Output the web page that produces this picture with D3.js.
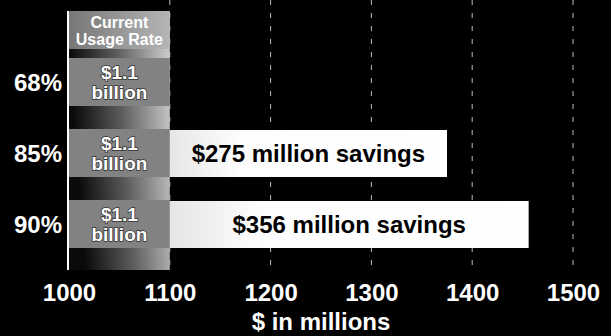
<!DOCTYPE html>
<html>
<head>
<meta charset="utf-8">
<script src="https://cdn.jsdelivr.net/npm/d3@7"></script>
<style>
  body { margin: 0; background: #000; }
  svg { display: block; }
</style>
</head>
<body>
<div id="chart"></div>
<script>
// data
const rates = ['68%', '85%', '90%']
const currentCost = [1100, 1100, 1100]      // $ millions at current usage rate
const savings = [0, 275, 356]               // $ millions saved
const savingsLabels = ['', '$275 million savings', '$356 million savings']
const costLabel = ['$1.1', 'billion']
const headerLabel = ['Current', 'Usage Rate']
const xTicks = [1000, 1100, 1200, 1300, 1400, 1500]
const xTitle = '$ in millions'

// constants
const width = 611
const height = 336
const font = '"Liberation Sans", Arial, sans-serif'

const svg = d3.select('#chart')
    .append('svg')
        .attr('width', width)
        .attr('height', height)
        .style('background', '#000')

const x = d3.scaleLinear()
            .domain([1000, 1500])
            .range([69, 573])

const y = d3.scaleBand()
            .domain(rates)
            .range([58, 248])
            .paddingInner(0.324)
            .paddingOuter(0)

const plotTop = 11
const plotBottom = 270

// gradients
const defs = svg.append('defs')
const colGrad = defs.append('linearGradient')
    .attr('id', 'colGrad')
    .attr('x1', '0%').attr('x2', '100%').attr('y1', '20%').attr('y2', '0%')
colGrad.append('stop').attr('offset', '0%').attr('stop-color', '#0a0a0a')
colGrad.append('stop').attr('offset', '45%').attr('stop-color', '#5a5a5a')
colGrad.append('stop').attr('offset', '100%').attr('stop-color', '#d4d4d4')

const headGrad = defs.append('linearGradient')
    .attr('id', 'headGrad')
    .attr('x1', '0%').attr('x2', '100%')
headGrad.append('stop').attr('offset', '0%').attr('stop-color', '#777')
headGrad.append('stop').attr('offset', '100%').attr('stop-color', '#b5b5b5')

const saveGrad = defs.append('linearGradient')
    .attr('id', 'saveGrad')
    .attr('x1', '0%').attr('x2', '100%')
saveGrad.append('stop').attr('offset', '0%').attr('stop-color', '#e6e6e6')
saveGrad.append('stop').attr('offset', '25%').attr('stop-color', '#fdfdfd')
saveGrad.append('stop').attr('offset', '100%').attr('stop-color', '#fff')

// dashed gridlines
svg.append('g')
    .selectAll('line')
    .data(xTicks.slice(1))
    .join('line')
        .attr('x1', d => x(d))
        .attr('x2', d => x(d))
        .attr('y1', 0)
        .attr('y2', plotBottom)
        .attr('stroke', '#bdbdbd')
        .attr('stroke-width', 1)
        .attr('stroke-dasharray', '5,8')

// current usage column background
svg.append('rect')
    .attr('x', x(1000))
    .attr('y', plotTop)
    .attr('width', x(1100) - x(1000))
    .attr('height', plotBottom - plotTop)
    .attr('fill', 'url(#colGrad)')

svg.append('rect')
    .attr('x', x(1000))
    .attr('y', plotTop)
    .attr('width', x(1100) - x(1000))
    .attr('height', 38)
    .attr('fill', 'url(#headGrad)')

svg.append('g')
    .selectAll('text')
    .data(headerLabel)
    .join('text')
        .attr('x', (x(1000) + x(1100)) / 2)
        .attr('y', (d, i) => 28 + i * 17)
        .attr('text-anchor', 'middle')
        .attr('fill', '#fff')
        .style('font-family', '"Liberation Sans Narrow", ' + font)
        .style('font-stretch', 'condensed')
        .style('font-weight', 'bold')
        .style('font-size', '16px')
        .text(d => d)

// current cost bars
const rows = rates.map((r, i) => ({rate: r, cost: currentCost[i], saving: savings[i], label: savingsLabels[i]}))

svg.append('g')
    .selectAll('rect')
    .data(rows)
    .join('rect')
        .attr('x', x(1000))
        .attr('y', d => y(d.rate))
        .attr('width', d => x(d.cost) - x(1000))
        .attr('height', y.bandwidth())
        .attr('fill', '#828282')

rows.forEach(d => {
    const cx = (x(1000) + x(d.cost)) / 2
    const cy = y(d.rate) + y.bandwidth() / 2
    svg.append('g')
        .selectAll('text')
        .data(costLabel)
        .join('text')
            .attr('x', cx)
            .attr('y', (t, i) => cy - 3 + i * 20)
            .attr('text-anchor', 'middle')
            .attr('fill', '#fff')
            .attr('stroke', '#333')
            .attr('stroke-width', 1.5)
            .attr('paint-order', 'stroke')
            .style('font-family', font)
            .style('font-weight', 'bold')
            .style('font-size', '19px')
            .text(t => t)
})

// savings bars
const saveRows = rows.filter(d => d.saving > 0)
svg.append('g')
    .selectAll('rect')
    .data(saveRows)
    .join('rect')
        .attr('x', d => x(d.cost))
        .attr('y', d => y(d.rate) + 1)
        .attr('width', d => x(d.cost + d.saving) - x(d.cost))
        .attr('height', y.bandwidth() - 1)
        .attr('fill', 'url(#saveGrad)')

svg.append('g')
    .selectAll('text')
    .data(saveRows)
    .join('text')
        .attr('x', d => (x(d.cost) + x(d.cost + d.saving)) / 2)
        .attr('y', d => y(d.rate) + y.bandwidth() / 2 + 9)
        .attr('text-anchor', 'middle')
        .attr('fill', '#000')
        .style('font-family', font)
        .style('font-weight', 'bold')
        .style('font-size', '24px')
        .text(d => d.label)

// category labels
svg.append('g')
    .selectAll('text')
    .data(rates)
    .join('text')
        .attr('x', 62)
        .attr('y', d => y(d) + y.bandwidth() / 2 + 9)
        .attr('text-anchor', 'end')
        .attr('fill', '#fff')
        .style('font-family', font)
        .style('font-weight', 'bold')
        .style('font-size', '24px')
        .text(d => d)

// vertical axis line
svg.append('line')
    .attr('x1', x(1000) - 1)
    .attr('x2', x(1000) - 1)
    .attr('y1', plotTop)
    .attr('y2', plotBottom)
    .attr('stroke', '#fff')
    .attr('stroke-width', 2)

// x axis labels
svg.append('g')
    .attr('transform', `translate(0, ${plotBottom})`)
    .call(d3.axisBottom(x)
            .tickValues(xTicks)
            .tickSize(0)
            .tickPadding(14)
            .tickFormat(d3.format('d')))
    .call(g => g.select('.domain').remove())
    .call(g => g.selectAll('text')
        .attr('fill', '#fff')
        .style('font-family', font)
        .style('font-weight', 'bold')
        .style('font-size', '24px'))

svg.append('text')
    .attr('x', (x(1000) + x(1500)) / 2)
    .attr('y', 330)
    .attr('text-anchor', 'middle')
    .attr('fill', '#fff')
    .style('font-family', font)
    .style('font-weight', 'bold')
    .style('font-size', '24px')
    .text(xTitle)
</script>
</body>
</html>
